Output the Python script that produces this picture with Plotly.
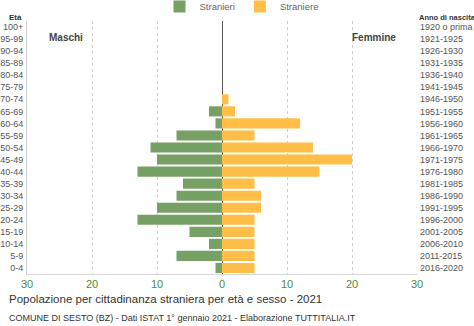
import plotly.graph_objects as go

ages = ["0-4","5-9","10-14","15-19","20-24","25-29","30-34","35-39","40-44","45-49",
        "50-54","55-59","60-64","65-69","70-74","75-79","80-84","85-89","90-94","95-99","100+"]
birth_years = ["2016-2020","2011-2015","2006-2010","2001-2005","1996-2000","1991-1995",
               "1986-1990","1981-1985","1976-1980","1971-1975","1966-1970","1961-1965",
               "1956-1960","1951-1955","1946-1950","1941-1945","1936-1940","1931-1935",
               "1926-1930","1921-1925","1920 o prima"]
males = [1,7,2,5,13,10,7,6,13,10,11,7,1,2,0,0,0,0,0,0,0]
females = [5,5,5,5,5,6,6,5,15,20,14,5,12,2,1,0,0,0,0,0,0]
tick_vals = [-30,-20,-10,0,10,20,30]
tick_text = ["30","20","10","0","10","20","30"]

GREEN = "#77a064"
YELLOW = "#ffbe47"
FONT = "Liberation Sans, Arial, sans-serif"
yrange = [-0.5, len(ages) - 0.5]

fig = go.Figure()
fig.add_trace(go.Bar(y=ages, x=[-v for v in males], orientation="h", name="Stranieri",
                     marker=dict(color=GREEN, line=dict(width=0)), customdata=males,
                     hovertemplate="%{y}: %{customdata}<extra>Stranieri</extra>"))
fig.add_trace(go.Bar(y=ages, x=females, orientation="h", name="Straniere",
                     marker=dict(color=YELLOW, line=dict(width=0)),
                     hovertemplate="%{y}: %{x}<extra>Straniere</extra>"))
fig.add_trace(go.Scatter(y=ages, x=[0]*len(ages), yaxis="y2", mode="markers",
                         marker=dict(opacity=0), showlegend=False, hoverinfo="skip"))

fig.update_layout(
    width=474, height=326,
    margin=dict(l=27, r=57, t=21, b=52, autoexpand=False),
    paper_bgcolor="white", plot_bgcolor="white",
    font=dict(family=FONT, size=11, color="#555"),
    barmode="overlay", bargap=0.16,
    showlegend=True,
    legend=dict(orientation="h", x=0.55, xanchor="center", y=1.0, yanchor="bottom",
                font=dict(size=9.5, color="#666"), itemwidth=30, traceorder="normal",
                bgcolor="rgba(0,0,0,0)", borderwidth=0, tracegroupgap=0),
    xaxis=dict(range=[-30,30], tickvals=tick_vals, ticktext=tick_text,
               tickfont=dict(size=11, color="#4f8a3a"), automargin=False,
               showgrid=True, gridcolor="#d0d0d0", griddash="dot", gridwidth=1,
               zeroline=True, zerolinecolor="#555", zerolinewidth=1,
               showline=True, linecolor="#d6d6d6", linewidth=1,
               ticks="", fixedrange=True),
    yaxis=dict(type="category", categoryorder="array", categoryarray=ages, range=yrange,
               tickvals=ages, ticktext=ages, automargin=False, ticklabelstandoff=1,
               tickfont=dict(size=9, color="#555"), showline=True,
               linecolor="#cfcfcf", linewidth=1, ticks="", showgrid=False, fixedrange=True),
    yaxis2=dict(type="category", categoryorder="array", categoryarray=ages, range=yrange,
                overlaying="y", side="right", tickvals=ages, ticktext=birth_years,
                automargin=False, ticklabelstandoff=2,
                tickfont=dict(size=9, color="#555"), showgrid=False,
                showline=False, ticks="", fixedrange=True),
)

fig.add_annotation(text="<b>Maschi</b>", xref="paper", yref="paper", x=0.051, y=0.935,
                   xanchor="left", yanchor="middle", showarrow=False,
                   font=dict(size=10, color="#444"))
fig.add_annotation(text="<b>Femmine</b>", xref="paper", yref="paper", x=0.951, y=0.935,
                   xanchor="right", yanchor="middle", showarrow=False,
                   font=dict(size=10, color="#444"))
fig.add_annotation(text="<b>Età</b>", xref="paper", yref="paper", x=-0.052, y=0.99,
                   xanchor="left", yanchor="bottom", showarrow=False,
                   font=dict(size=8, color="#333"))
fig.add_annotation(text="<b>Anno di nascita</b>", xref="paper", yref="paper", x=1.0, y=0.99,
                   xanchor="left", yanchor="bottom", showarrow=False,
                   font=dict(size=7.5, color="#333"))
fig.add_annotation(text="Popolazione per cittadinanza straniera per età e sesso - 2021",
                   xref="paper", yref="paper", x=-0.052, y=-0.099,
                   xanchor="left", yanchor="middle", showarrow=False,
                   font=dict(size=11.5, color="#333"))
fig.add_annotation(text="COMUNE DI SESTO (BZ) - Dati ISTAT 1° gennaio 2021 - Elaborazione TUTTITALIA.IT",
                   xref="paper", yref="paper", x=-0.052, y=-0.174,
                   xanchor="left", yanchor="middle", showarrow=False,
                   font=dict(size=9, color="#333"))

fig.write_html("out.html")
